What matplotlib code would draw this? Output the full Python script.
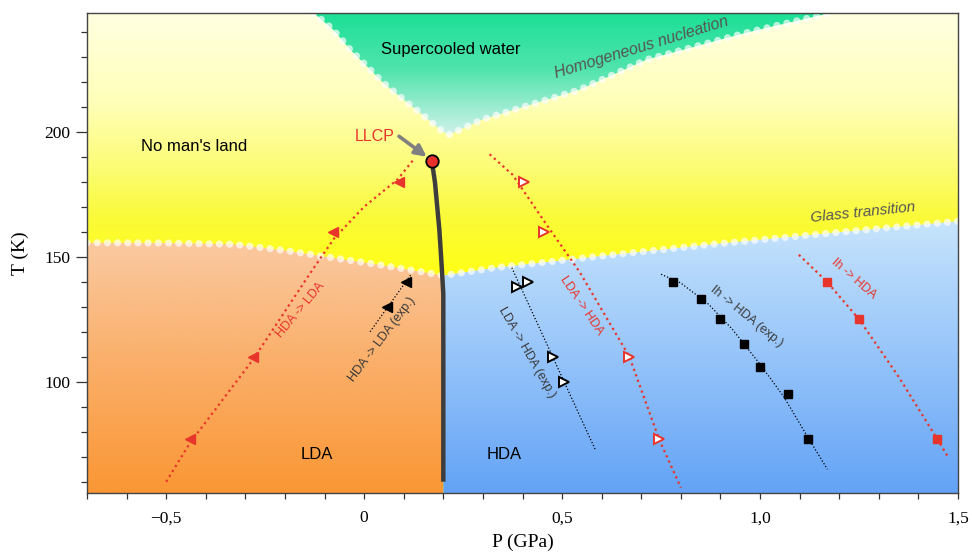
import numpy as np
import matplotlib
matplotlib.use("Agg")
import matplotlib.pyplot as plt
from matplotlib.colors import LinearSegmentedColormap
from matplotlib.patches import Polygon
from matplotlib.ticker import MultipleLocator, FixedLocator, FixedFormatter

# ---------------- axes ----------------
P_LIM = (-0.7, 1.5)
T_LIM = (55.5, 247.5)
p_ticks = [-0.5, 0.0, 0.5, 1.0, 1.5]
p_tick_labels = ["\u22120,5", "0", "0,5", "1,0", "1,5"]
t_ticks = [100, 150, 200]
t_tick_labels = ["100", "150", "200"]

# ---------------- phase boundaries ----------------
glass_P = [-0.7, -0.5, -0.33, -0.2, -0.08, 0.05, 0.2, 0.33, 0.6, 0.88, 1.2, 1.5]
glass_T = [155.6, 155.5, 155.0, 152.5, 149.6, 146.5, 142.5, 145.6, 150.3, 155.0, 159.8, 164.2]

nucl_P = [-0.128, -0.078, -0.035, 0.008, 0.048, 0.091, 0.141, 0.199, 0.214,
          0.242, 0.297, 0.544, 0.713, 0.965, 1.18]
nucl_T = [247.6, 240.8, 232.8, 226.0, 219.6, 214.0, 207.6, 200.0, 198.8,
          200.8, 204.8, 216.8, 228.8, 239.6, 247.6]

coex_P = [0.171, 0.179, 0.190, 0.196, 0.200, 0.200]
coex_T = [188.4, 179.6, 160.8, 146.0, 135.0, 60.0]
llcp_P, llcp_T = 0.171, 188.4

# ---------------- transformation paths ----------------
# HDA -> LDA (simulation)
hl_sim_line_P = [-0.5, -0.44, -0.28, -0.136, -0.075, 0.0, 0.085, 0.128]
hl_sim_line_T = [60.0, 75.5, 109.0, 143.5, 157.5, 170.0, 181.0, 189.5]
hl_sim_P = [-0.44, -0.28, -0.078, 0.088]
hl_sim_T = [77, 110, 160, 180]

# HDA -> LDA (experiment)
hl_exp_line_P = [0.015, 0.118]
hl_exp_line_T = [120.0, 142.8]
hl_exp_P = [0.058, 0.106]
hl_exp_T = [130, 140]

# LDA -> HDA (simulation)
lh_sim_line_P = [0.317, 0.375, 0.46, 0.544, 0.67, 0.745, 0.80]
lh_sim_line_T = [191.0, 182.8, 163.0, 144.0, 110.0, 77.0, 57.6]
lh_sim_P = [0.405, 0.455, 0.67, 0.745]
lh_sim_T = [180, 160, 110, 77]

# LDA -> HDA (experiment)
lh_exp_line_P = [0.373, 0.584]
lh_exp_line_T = [145.6, 72.8]
lh_exp_P = [0.385, 0.415, 0.478, 0.504]
lh_exp_T = [138, 140, 110, 100]

# Ih -> HDA (experiment)
ih_exp_line_P = [0.75, 0.80, 0.87, 0.93, 1.0, 1.06, 1.12, 1.17]
ih_exp_line_T = [143.0, 139.5, 131.0, 121.0, 107.0, 94.0, 78.0, 65.0]
ih_exp_P = [0.78, 0.85, 0.90, 0.96, 1.00, 1.07, 1.12]
ih_exp_T = [140, 133, 125, 115, 106, 95, 77]

# Ih -> HDA (simulation)
ih_sim_line_P = [1.098, 1.169, 1.25, 1.35, 1.448, 1.476]
ih_sim_line_T = [150.8, 140.0, 125.0, 102.0, 77.0, 69.6]
ih_sim_P = [1.169, 1.25, 1.448]
ih_sim_T = [140, 125, 77]

RED = "#E8352B"
DARK = "#3a3a3a"

plt.rcParams["font.family"] = ["Liberation Sans", "DejaVu Sans"]

fig = plt.figure(figsize=(9.72, 5.54), dpi=100)
ax = fig.add_axes([87 / 972, 61 / 554, 871 / 972, 480 / 554])
ax.set_xlim(*P_LIM)
ax.set_ylim(*T_LIM)


def gradient(stops, t_lo, t_hi, clip=None, z=0):
    """Vertical colour gradient over the axes, optionally clipped to a polygon."""
    ts = np.array([s[0] for s in stops], float)
    pos = (ts - t_lo) / (t_hi - t_lo)
    cmap = LinearSegmentedColormap.from_list(
        "g", [(p, tuple(c / 255 for c in s[1])) for p, s in zip(pos, stops)])
    col = cmap(np.linspace(0, 1, 400))[:, None, :3]
    im = ax.imshow(col, extent=[P_LIM[0] - 0.1, P_LIM[1] + 0.1, t_lo, t_hi],
                   origin="lower", aspect="auto", interpolation="bilinear", zorder=z)
    if clip is not None:
        patch = Polygon(clip, closed=True, transform=ax.transData,
                        facecolor="none", edgecolor="none")
        im.set_clip_path(patch)
    return im


lo, hi = T_LIM[0] - 10, T_LIM[1] + 10

# no man's land (yellow)
gradient([(lo, (255, 255, 20)), (145, (255, 255, 25)), (165, (250, 250, 55)),
          (185, (252, 252, 115)), (212, (255, 255, 185)), (hi, (255, 255, 236))],
         lo, hi, z=0)

# supercooled water (green)
green_poly = list(zip(nucl_P, nucl_T)) + [(nucl_P[-1], hi), (nucl_P[0], hi)]
gradient([(196, (218, 243, 236)), (206, (175, 238, 218)), (225, (80, 228, 172)),
          (hi, (5, 222, 140))], 196, hi, clip=green_poly, z=1)

# LDA (orange)
split = 0.2
lda_pts = [(p, t) for p, t in zip(glass_P, glass_T) if p <= split]
lda_poly = [(P_LIM[0] - 0.1, lda_pts[0][1])] + lda_pts + [(split, lo), (P_LIM[0] - 0.1, lo)]
gradient([(lo, (250, 146, 42)), (110, (250, 176, 108)), (157, (250, 202, 162))],
         lo, 157, clip=lda_poly, z=1)

# HDA (blue)
hda_pts = [(p, t) for p, t in zip(glass_P, glass_T) if p >= split]
hda_poly = hda_pts + [(P_LIM[1] + 0.1, hda_pts[-1][1]), (P_LIM[1] + 0.1, lo), (split, lo)]
gradient([(lo, (90, 157, 245)), (110, (150, 196, 250)), (166, (200, 229, 252))],
         lo, 166, clip=hda_poly, z=1)

# boundaries drawn as strings of pale beads
bead = dict(color="white", alpha=0.68, lw=5.2, linestyle=(0, (0.01, 1.4)),
            dash_capstyle="round", solid_capstyle="round", zorder=2)
ax.plot(glass_P, glass_T, **bead)
ax.plot(nucl_P, nucl_T, **bead)

# liquid-liquid coexistence line and critical point
ax.plot(coex_P, coex_T, color="#3d3d3d", lw=3.2, solid_capstyle="butt", zorder=4)
ax.plot([llcp_P], [llcp_T], "o", ms=9, mfc="#E8302A", mec="black", mew=1.3, zorder=6)
ax.text(0.078, 198, "LLCP", color=RED, fontsize=11.5, ha="right", va="center", zorder=6)
ax.annotate("", xy=(0.158, 190.0), xytext=(0.088, 198.2), zorder=5,
            arrowprops=dict(arrowstyle="-|>", color="#808080", lw=2.6,
                            mutation_scale=17, shrinkA=0, shrinkB=0))

# transformation paths
red_line = dict(color=RED, lw=1.6, linestyle=(0, (1, 1.6)), zorder=3)
blk_line = dict(color="black", lw=0.9, linestyle=(0, (1, 1.6)), zorder=3)
ax.plot(hl_sim_line_P, hl_sim_line_T, **red_line)
ax.plot(hl_sim_P, hl_sim_T, "<", ms=7, color=RED, mec=RED, zorder=5)
ax.plot(hl_exp_line_P, hl_exp_line_T, **blk_line)
ax.plot(hl_exp_P, hl_exp_T, "<", ms=7, color="black", zorder=5)
ax.plot(lh_sim_line_P, lh_sim_line_T, **red_line)
ax.plot(lh_sim_P, lh_sim_T, ">", ms=7, mfc="white", mec=RED, mew=1.4, zorder=5)
ax.plot(lh_exp_line_P, lh_exp_line_T, **blk_line)
ax.plot(lh_exp_P, lh_exp_T, ">", ms=7.5, mfc="white", mec="black", mew=1.4, zorder=5)
ax.plot(ih_exp_line_P, ih_exp_line_T, **blk_line)
ax.plot(ih_exp_P, ih_exp_T, "s", ms=5.5, color="black", zorder=5)
ax.plot(ih_sim_line_P, ih_sim_line_T, **red_line)
ax.plot(ih_sim_P, ih_sim_T, "s", ms=6, color=RED, zorder=5)

# labels
ax.text(0.22, 233, "Supercooled water", fontsize=12, ha="center", va="center", zorder=6)
ax.text(-0.43, 194, "No man's land", fontsize=12, ha="center", va="center", zorder=6)
ax.text(-0.12, 70.8, "LDA", fontsize=12, ha="center", va="center", zorder=6)
ax.text(0.355, 70.8, "HDA", fontsize=12, ha="center", va="center", zorder=6)
ax.text(0.70, 233.6, "Homogeneous nucleation", fontsize=11.5, style="italic",
        color="#555555", ha="center", va="center", rotation=17,
        rotation_mode="anchor", zorder=6)
ax.text(1.26, 167.6, "Glass transition", fontsize=11, style="italic",
        color="#555555", ha="center", va="center", rotation=6,
        rotation_mode="anchor", zorder=6)

path_labels = [
    (-0.16, 128.8, "HDA -> LDA", 50, RED),
    (0.045, 116.8, "HDA -> LDA (exp.)", 53, DARK),
    (0.41, 111.6, "LDA -> HDA (exp.)", -60, DARK),
    (0.55, 130.4, "LDA -> HDA", -56, RED),
    (0.967, 126.0, "Ih -> HDA (exp.)", -39, DARK),
    (1.237, 141.0, "Ih -> HDA", -41, RED),
]
for p, t, s, rot, c in path_labels:
    ax.text(p, t, s, fontsize=9, color=c, ha="center", va="center",
            rotation=rot, rotation_mode="anchor", zorder=6)

# ticks and frame
serif = ["Liberation Serif", "DejaVu Serif"]
ax.xaxis.set_major_locator(FixedLocator(p_ticks))
ax.xaxis.set_major_formatter(FixedFormatter(p_tick_labels))
ax.xaxis.set_minor_locator(MultipleLocator(0.1))
ax.yaxis.set_major_locator(FixedLocator(t_ticks))
ax.yaxis.set_major_formatter(FixedFormatter(t_tick_labels))
ax.yaxis.set_minor_locator(MultipleLocator(10))
ax.tick_params(which="both", direction="out", length=4.5, width=0.9,
               color="#333333", top=False, right=False)
ax.tick_params(axis="y", which="major", length=8)
ax.tick_params(which="major", labelsize=12.5, pad=4)
ax.tick_params(axis="x", which="major", pad=8)
for lab in ax.get_xticklabels() + ax.get_yticklabels():
    lab.set_family(serif)
for sp in ax.spines.values():
    sp.set_color("#444444")
    sp.set_linewidth(1.0)
    sp.set_zorder(7)
ax.set_xlabel("P (GPa)", fontsize=14, family=serif, labelpad=5)
ax.set_ylabel("T (K)", fontsize=14, family=serif, labelpad=11)

fig.savefig("out.png", dpi=100)
